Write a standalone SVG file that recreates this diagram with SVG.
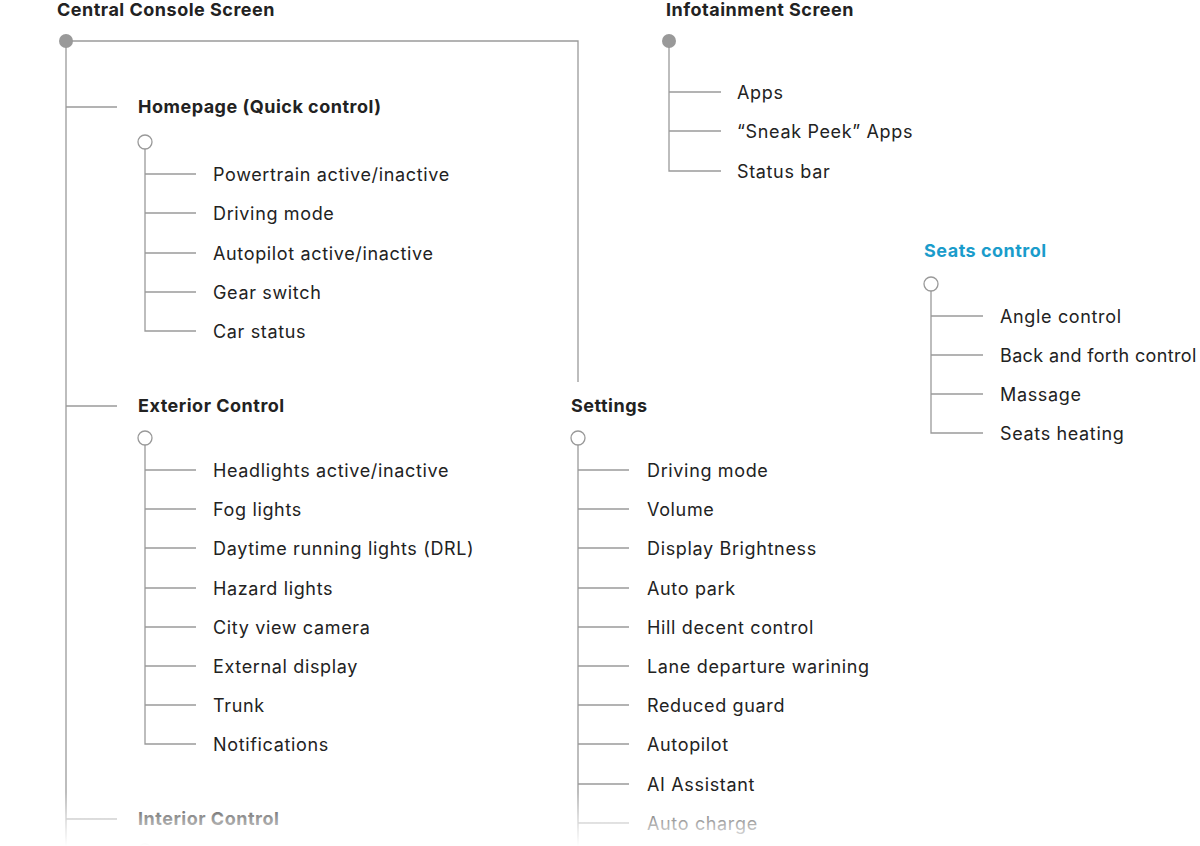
<svg xmlns="http://www.w3.org/2000/svg" width="1200" height="846" viewBox="0 0 1200 846">
<defs>
<style>
.t{font-family:Inter,"Noto Sans","Liberation Sans",sans-serif;font-size:18px;fill:#222;letter-spacing:0.65px}
.h{font-family:Inter,"Noto Sans","Liberation Sans",sans-serif;font-size:18px;font-weight:700;fill:#222;letter-spacing:0.5px}
.c{stroke:#9a9a9a;stroke-width:1.3;fill:none}
.root{fill:#999;stroke:none}
.open{fill:#fff;stroke:#999;stroke-width:1.3}
</style>
<linearGradient id="fade" x1="0" y1="0" x2="0" y2="1">
<stop offset="0" stop-color="#fff" stop-opacity="0"/>
<stop offset="0.45" stop-color="#fff" stop-opacity="0.5"/>
<stop offset="1" stop-color="#fff" stop-opacity="1"/>
</linearGradient>
</defs>
<rect width="1200" height="846" fill="#fff"/>
<g id="connectors" class="c">
<path d="M66 41H578V382"/>
<path d="M66 41V846"/>
<path d="M66 107H117M66 406H117M66 819H117"/>
<path d="M145 149V331H196M145 174H196M145 213H196M145 253H196M145 292H196"/>
<path d="M145 445V744H196M145 470H196M145 509H196M145 548H196M145 588H196M145 627H196M145 666H196M145 705H196"/>
<path d="M578 445V846M578 470H629M578 509H629M578 548H629M578 588H629M578 627H629M578 666H629M578 705H629M578 744H629M578 784H629M578 823H629"/>
<path d="M669 41V171H721M669 92H721M669 131H721"/>
<path d="M931 291V433H983M931 316H983M931 355H983M931 394H983"/>
</g>
<g id="central">
<text class="h" x="57" y="16">Central Console Screen</text>
<circle class="root" cx="66" cy="41" r="7"/>
</g>
<g id="homepage">
<text class="h" x="138" y="113">Homepage (Quick control)</text>
<circle class="open" cx="145" cy="142" r="7"/>
<text class="t" x="213" y="181">Powertrain active/inactive</text>
<text class="t" x="213" y="220">Driving mode</text>
<text class="t" x="213" y="260">Autopilot active/inactive</text>
<text class="t" x="213" y="299">Gear switch</text>
<text class="t" x="213" y="338">Car status</text>
</g>
<g id="exterior">
<text class="h" x="138" y="412">Exterior Control</text>
<circle class="open" cx="145" cy="438" r="7"/>
<text class="t" x="213" y="477">Headlights active/inactive</text>
<text class="t" x="213" y="516">Fog lights</text>
<text class="t" x="213" y="555">Daytime running lights (DRL)</text>
<text class="t" x="213" y="595">Hazard lights</text>
<text class="t" x="213" y="634">City view camera</text>
<text class="t" x="213" y="673">External display</text>
<text class="t" x="213" y="712">Trunk</text>
<text class="t" x="213" y="751">Notifications</text>
</g>
<g id="interior">
<text class="h" x="138" y="825">Interior Control</text>
<circle class="open" cx="145" cy="851" r="7"/>
</g>
<g id="settings">
<text class="h" x="571" y="412">Settings</text>
<circle class="open" cx="578" cy="438" r="7"/>
<text class="t" x="647" y="477">Driving mode</text>
<text class="t" x="647" y="516">Volume</text>
<text class="t" x="647" y="555">Display Brightness</text>
<text class="t" x="647" y="595">Auto park</text>
<text class="t" x="647" y="634">Hill decent control</text>
<text class="t" x="647" y="673">Lane departure warining</text>
<text class="t" x="647" y="712">Reduced guard</text>
<text class="t" x="647" y="751">Autopilot</text>
<text class="t" x="647" y="791">AI Assistant</text>
<text class="t" x="647" y="830">Auto charge</text>
</g>
<g id="infotainment">
<text class="h" x="666" y="16">Infotainment Screen</text>
<circle class="root" cx="669" cy="41" r="7"/>
<text class="t" x="737" y="99">Apps</text>
<text class="t" x="737" y="138">“Sneak Peek” Apps</text>
<text class="t" x="737" y="178">Status bar</text>
</g>
<g id="seats">
<text class="h" x="924" y="257" style="fill:#1a9ccb">Seats control</text>
<circle class="open" cx="931" cy="284" r="7"/>
<text class="t" x="1000" y="323">Angle control</text>
<text class="t" x="1000" y="362" textLength="197" lengthAdjust="spacing">Back and forth control</text>
<text class="t" x="1000" y="401">Massage</text>
<text class="t" x="1000" y="440">Seats heating</text>
</g>
<rect x="0" y="792" width="1200" height="54" fill="url(#fade)"/>
</svg>
